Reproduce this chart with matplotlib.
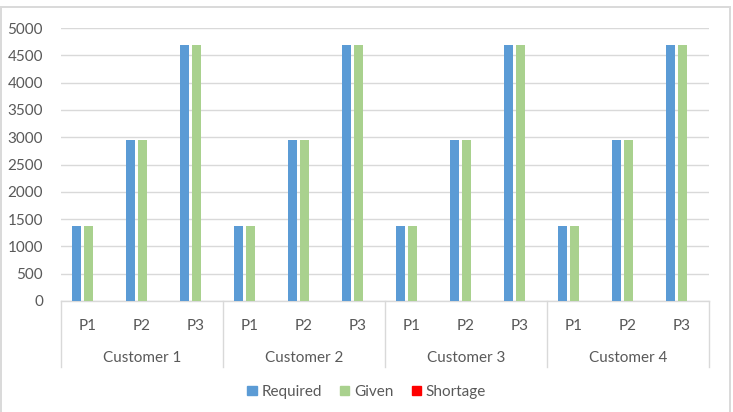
import matplotlib
matplotlib.use("Agg")
import matplotlib.pyplot as plt
from matplotlib.patches import Rectangle, Patch
import numpy as np

customers = ["Customer 1", "Customer 2", "Customer 3", "Customer 4"]
products = ["P1", "P2", "P3"]
required = [1380, 2940, 4680, 1380, 2940, 4680, 1380, 2940, 4680, 1380, 2940, 4680]
given = [1380, 2940, 4680, 1380, 2940, 4680, 1380, 2940, 4680, 1380, 2940, 4680]
shortage = [0, 0, 0, 0, 0, 0, 0, 0, 0, 0, 0, 0]
yticks = [0, 500, 1000, 1500, 2000, 2500, 3000, 3500, 4000, 4500, 5000]

plt.rcParams['font.family'] = ['Lato', 'DejaVu Sans']
txt = '#595959'
grid = '#D9D9D9'
fs = 11

fig = plt.figure(figsize=(7.33, 4.12), dpi=100)
fig.patches.append(Rectangle((1/733, -10/412), 729/733, 415/412, transform=fig.transFigure,
                             fill=False, edgecolor=grid, linewidth=1.4, clip_on=False))
ax = fig.add_axes([61/733, 1-301/412, 648/733, 273/412])

x = np.arange(len(required))
w = 9/54
off = 12/54
ax.bar(x - off, required, w, color='#5B9BD5', label='Required', zorder=3)
ax.bar(x, given, w, color='#A9D18E', label='Given', zorder=3)
ax.bar(x + off, shortage, w, color='#FF0000', label='Shortage', zorder=3)

ax.set_xlim(-0.5, len(x) - 0.5)
ax.set_ylim(0, 5000)
ax.set_yticks(yticks)
ax.set_yticklabels([str(v) for v in yticks], color=txt, fontsize=fs)
ax.yaxis.grid(True, color=grid, linewidth=1, zorder=0)
ax.tick_params(axis='y', length=0, pad=13)
ax.tick_params(axis='x', length=0, pad=13)
ax.set_xticks(x)
ax.set_xticklabels(products * len(customers), color=txt, fontsize=fs)
for s in ['top', 'right', 'left']:
    ax.spines[s].set_visible(False)
ax.spines['bottom'].set_color(grid)
ax.spines['bottom'].set_linewidth(1)

trans = ax.get_xaxis_transform()
n = len(products)
for i in range(len(customers) + 1):
    xp = i * n - 0.5
    ax.plot([xp, xp], [0, -66/273], color=grid, linewidth=1, transform=trans, clip_on=False)
for i, c in enumerate(customers):
    ax.text(i * n + (n - 1) / 2, -57/273, c, transform=trans, ha='center', va='center',
            color=txt, fontsize=fs)

handles = [Patch(color='#5B9BD5', label='Required'),
           Patch(color='#A9D18E', label='Given'),
           Patch(color='#FF0000', label='Shortage')]
fig.legend(handles=handles, loc='center', bbox_to_anchor=(0.5, 1-392/412), ncol=3,
           frameon=False, fontsize=fs, labelcolor=txt, handlelength=0.6, handleheight=0.6,
           handletextpad=0.3, columnspacing=1.2)

fig.savefig('out.png', dpi=100)
